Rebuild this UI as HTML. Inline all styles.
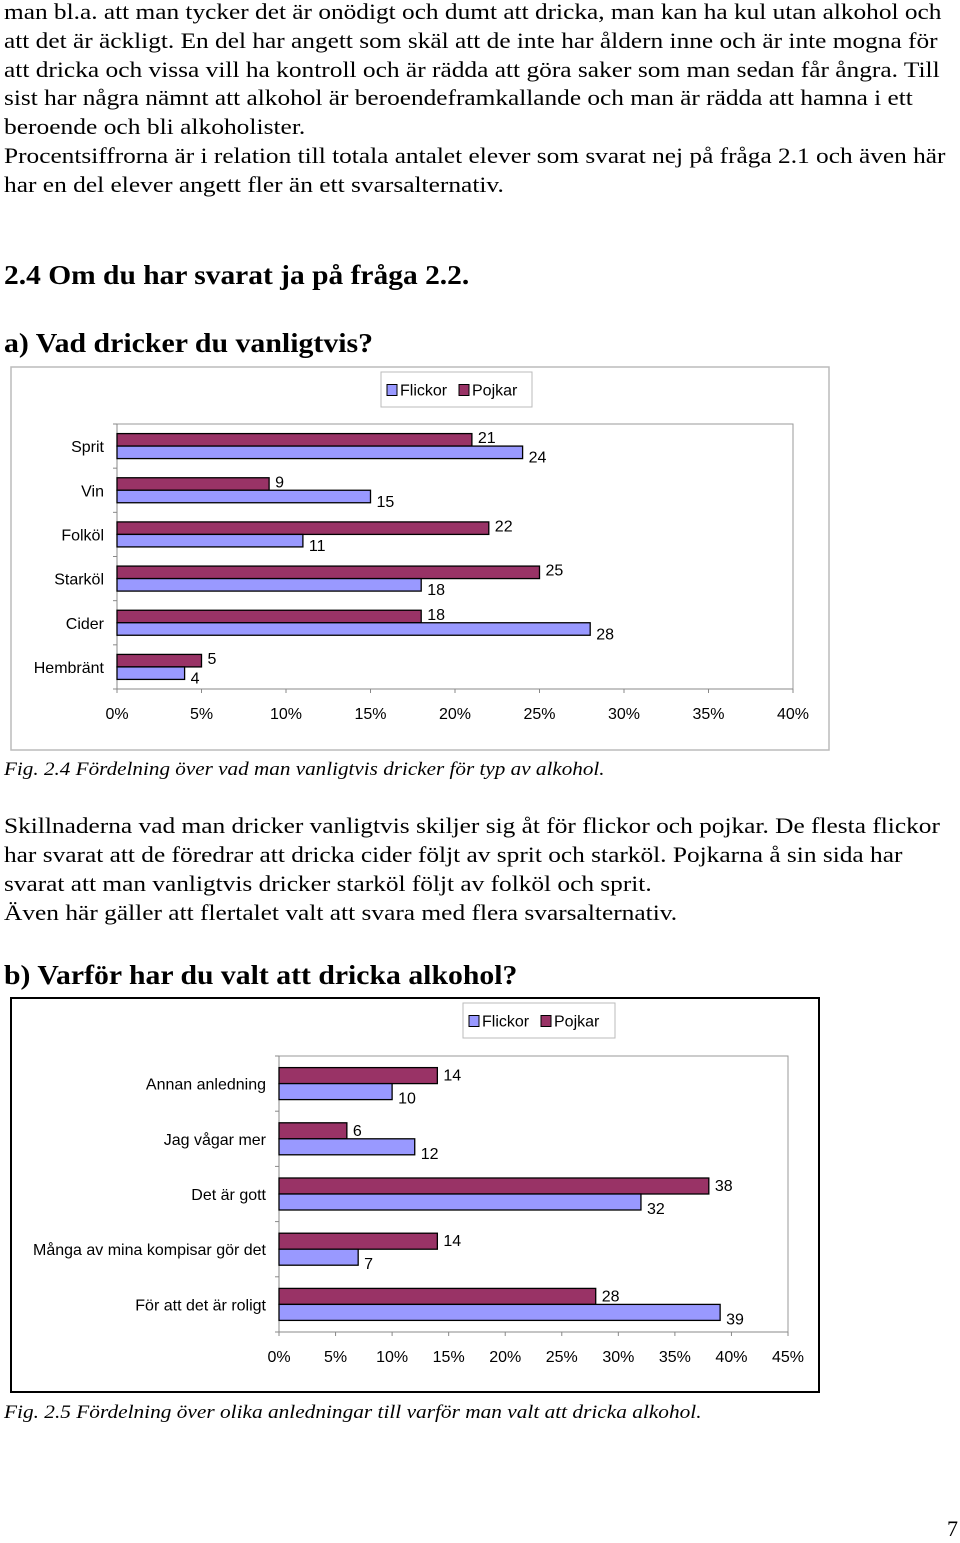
<!DOCTYPE html>
<html><head><meta charset="utf-8">
<style>
body{margin:0;width:960px;height:1543px;background:#fff;position:relative;overflow:hidden;font-family:"Liberation Serif",serif;color:#000}
.t{position:absolute;left:4px;white-space:nowrap;font-size:22px;line-height:28px;height:28px;transform-origin:0 50%}
.h{font-weight:bold;font-size:27px;line-height:34px;height:34px}
.c{font-style:italic;font-size:19px}
svg{position:absolute;left:0;top:0}
svg text{font-family:"Liberation Sans",sans-serif;font-size:16px}
</style></head><body>
<div class="t" data-w="937" style="top:-2px">man bl.a. att man tycker det är onödigt och dumt att dricka, man kan ha kul utan alkohol och</div>
<div class="t" data-w="934" style="top:27px">att det är äckligt. En del har angett som skäl att de inte har åldern inne och är inte mogna för</div>
<div class="t" data-w="936" style="top:56px">att dricka och vissa vill ha kontroll och är rädda att göra saker som man sedan får ångra. Till</div>
<div class="t" data-w="909" style="top:84px">sist har några nämnt att alkohol är beroendeframkallande och man är rädda att hamna i ett</div>
<div class="t" data-w="301" style="top:113px">beroende och bli alkoholister.</div>
<div class="t" data-w="942" style="top:142px">Procentsiffrorna är i relation till totala antalet elever som svarat nej på fråga 2.1 och även här</div>
<div class="t" data-w="500" style="top:171px">har en del elever angett fler än ett svarsalternativ.</div>
<div class="t h" data-w="465" style="top:258px">2.4 Om du har svarat ja på fråga 2.2.</div>
<div class="t h" data-w="369" style="top:326px">a) Vad dricker du vanligtvis?</div>
<div class="t c" data-w="601" style="top:756px">Fig. 2.4 Fördelning över vad man vanligtvis dricker för typ av alkohol.</div>
<div class="t" data-w="936" style="top:812px">Skillnaderna vad man dricker vanligtvis skiljer sig åt för flickor och pojkar. De flesta flickor</div>
<div class="t" data-w="899" style="top:841px">har svarat att de föredrar att dricka cider följt av sprit och starköl. Pojkarna å sin sida har</div>
<div class="t" data-w="648" style="top:870px">svarat att man vanligtvis dricker starköl följt av folköl och sprit.</div>
<div class="t" data-w="673" style="top:899px">Även här gäller att flertalet valt att svara med flera svarsalternativ.</div>
<div class="t h" data-w="513" style="top:958px">b) Varför har du valt att dricka alkohol?</div>
<div class="t c" data-w="697" style="top:1399px">Fig. 2.5 Fördelning över olika  anledningar till varför man valt att dricka alkohol.</div>
<div style="position:absolute;left:947px;top:1516px;font-size:22px">7</div>

<svg id="chart" width="960" height="1543"></svg>
<script>
document.querySelectorAll('.t').forEach(function(d){var w=+d.getAttribute('data-w');var r=d.scrollWidth;if(r>0)d.style.transform='scaleX('+(w/r)+')';});

const cats1=["Sprit","Vin","Folköl","Starköl","Cider","Hembränt"];
const pojkar1=[21,9,22,25,18,5];
const flickor1=[24,15,11,18,28,4];
const ticks1=["0%","5%","10%","15%","20%","25%","30%","35%","40%"];
const cats2=["Annan anledning","Jag vågar mer","Det är gott","Många av mina kompisar gör det","För att det är roligt"];
const pojkar2=[14,6,38,14,28];
const flickor2=[10,12,32,7,39];
const ticks2=["0%","5%","10%","15%","20%","25%","30%","35%","40%","45%"];

const NS="http://www.w3.org/2000/svg";
const svg=document.getElementById('chart');
function mk(tag,attrs,parent){const e=document.createElementNS(NS,tag);for(const k in attrs)e.setAttribute(k,attrs[k]);(parent||svg).appendChild(e);return e;}

function chart(cfg){
  const g=mk('g',{});
  
  
  const fr=mk('rect',{x:cfg.frame[0],y:cfg.frame[1],width:cfg.frame[2],height:cfg.frame[3],fill:'#fff',stroke:cfg.frameColor,'stroke-width':cfg.frameW},g);
  
  
  // legend
  const L=cfg.legend;
  const lg=mk('g',{},g);
  
  
  mk('rect',{x:L[0],y:L[1],width:L[2],height:L[3],fill:'#fff',stroke:'#bbb'},lg);
  const ly=L[1]+L[3]/2;
  const e1=mk('g',{},lg);
  
  
  mk('rect',{x:L[0]+6,y:ly-5,width:10,height:11,fill:'#9999FF',stroke:'#000'},e1);
  mk('text',{x:L[0]+19,y:ly+6},e1).textContent='Flickor';
  const e2=mk('g',{},lg);
  
  
  mk('rect',{x:L[0]+78,y:ly-5,width:10,height:11,fill:'#993366',stroke:'#000'},e2);
  mk('text',{x:L[0]+91,y:ly+6},e2).textContent='Pojkar';
  const x0=cfg.left,x1=cfg.right,y0=cfg.top,y1=cfg.bottom;
  const xs=v=>x0+(v/cfg.max)*(x1-x0);
  // plot area
  const pa=mk('rect',{x:x0,y:y0,width:x1-x0,height:y1-y0,fill:'#fff',stroke:'#999'},g);
  
  
  mk('line',{x1:x0,y1:y0,x2:x0,y2:y1,stroke:'#888'},g);
  mk('line',{x1:x0,y1:y1,x2:x1,y2:y1,stroke:'#888'},g);
  const n=cfg.cats.length,band=(y1-y0)/n,bh=cfg.bh;
  cfg.ticks.forEach((t,i)=>{
    const v=i*cfg.max/(cfg.ticks.length-1),x=xs(v);
    mk('line',{x1:x,y1:y1,x2:x,y2:y1+4,stroke:'#888'},g);
    const tt=mk('text',{x:x,y:y1+30,'text-anchor':'middle'},g);
    tt.textContent=t;
    
    
  });
  for(let i=0;i<=n;i++){const y=y0+i*band;mk('line',{x1:x0-4,y1:y,x2:x0,y2:y,stroke:'#888'},g);}
  cfg.cats.forEach((c,i)=>{
    const cy=y0+band*(i+0.5);
    const lbl=mk('text',{x:x0-13,y:cy+6,'text-anchor':'end'},g);
    lbl.textContent=c;
    
    
    const pb=mk('rect',{x:x0,y:cy-bh,width:xs(cfg.p[i])-x0,height:bh,fill:'#993366',stroke:'#000','stroke-width':1.3},g);
    
    
    const fb=mk('rect',{x:x0,y:cy,width:xs(cfg.f[i])-x0,height:bh,fill:'#9999FF',stroke:'#000','stroke-width':1.3},g);
    
    
    const pv=mk('text',{x:xs(cfg.p[i])+6,y:cy-3},g);
    pv.textContent=cfg.p[i];
    
    
    const fv=mk('text',{x:xs(cfg.f[i])+6,y:cy+bh+4},g);
    fv.textContent=cfg.f[i];
    
    
  });
}
chart({name:'chart-drinks',frame:[11,367,818,383],frameColor:'#bbb',frameW:1.5,legend:[381,372,151,35],
  left:117,right:793,top:424,bottom:689,max:40,bh:12.5,cats:cats1,p:pojkar1,f:flickor1,ticks:ticks1});
chart({name:'chart-reasons',frame:[11,998,808,394],frameColor:'#000',frameW:2,legend:[463,1003,152,35],
  left:279,right:788,top:1056,bottom:1332,max:45,bh:16,cats:cats2,p:pojkar2,f:flickor2,ticks:ticks2});
</script>
</body></html>
